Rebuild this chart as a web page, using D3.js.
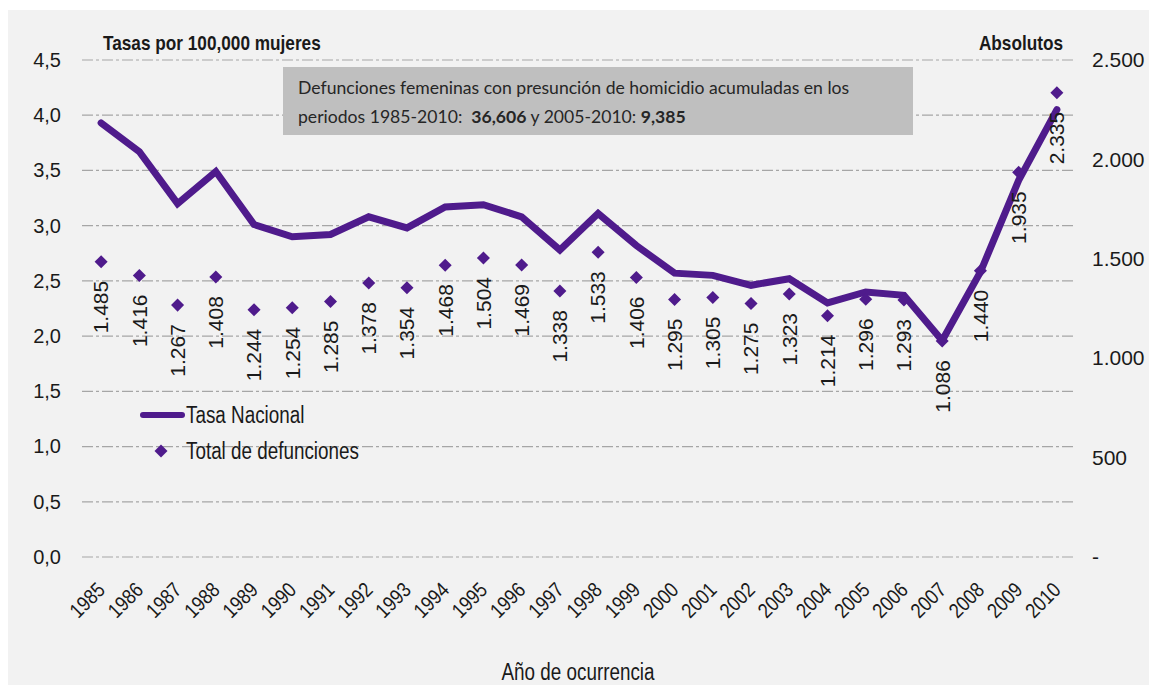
<!DOCTYPE html>
<html>
<head>
<meta charset="utf-8">
<script src="https://cdn.jsdelivr.net/npm/d3@7"></script>
<style>
  body { margin: 0; background: #ffffff; }
</style>
</head>
<body>
<div id="chart"></div>
<script>
const years = ["1985", "1986", "1987", "1988", "1989", "1990", "1991", "1992", "1993",
  "1994", "1995", "1996", "1997", "1998", "1999", "2000", "2001", "2002", "2003",
  "2004", "2005", "2006", "2007", "2008", "2009", "2010"];

// Tasa Nacional (left axis, per 100,000 women)
const tasaNacional = [3.93, 3.67, 3.20, 3.49, 3.01, 2.90, 2.92, 3.08, 2.98, 3.17, 3.19,
  3.08, 2.78, 3.11, 2.82, 2.57, 2.55, 2.46, 2.52, 2.30, 2.40, 2.37, 1.96, 2.58, 3.41, 4.05];

// Total de defunciones (right axis, absolute)
const totalDefunciones = [1485, 1416, 1267, 1408, 1244, 1254, 1285, 1378, 1354, 1468, 1504,
  1469, 1338, 1533, 1406, 1295, 1305, 1275, 1323, 1214, 1296, 1293, 1086, 1440, 1935, 2335];

const leftTicks = [0, 0.5, 1.0, 1.5, 2.0, 2.5, 3.0, 3.5, 4.0, 4.5];
const rightTicks = [0, 500, 1000, 1500, 2000, 2500];

const width = 1149;
const height = 685;
const purple = "#4f1b8c";
const narrow = 0.82; // no Arial Narrow installed, squeeze Liberation Sans instead

const svg = d3.select("#chart")
  .append("svg")
  .attr("width", width)
  .attr("height", height)
  .attr("font-family", "'Liberation Sans', Arial, sans-serif");

// panel background
svg.append("rect")
  .attr("x", 8).attr("y", 10)
  .attr("width", width - 8).attr("height", height - 10)
  .attr("fill", "#f2f2f2");

const x = d3.scaleBand().domain(years).range([82, 1076]);
const cx = (d) => x(d) + x.bandwidth() / 2;
const yL = d3.scaleLinear().domain([0, 4.5]).range([557, 60]);
const yR = d3.scaleLinear().domain([0, 2500]).range([557, 60]);

const esLocale = d3.formatLocale({ decimal: ",", thousands: ".", grouping: [3], currency: ["", ""] });
const fmtInt = esLocale.format(",d");
const fmtDec = esLocale.format(".1f");

// squeezed text helper
const narrowText = (sel, px, py, size, txt) =>
  sel.append("text")
    .attr("transform", `translate(${px},${py}) scale(${narrow},1)`)
    .attr("font-size", size)
    .attr("fill", "#1a1a1a")
    .text(txt);

// gridlines
svg.append("g")
  .selectAll("line")
  .data(leftTicks)
  .enter()
  .append("line")
  .attr("x1", 82).attr("x2", 1076)
  .attr("y1", (d) => yL(d)).attr("y2", (d) => yL(d))
  .attr("stroke", "#a6a6a6")
  .attr("stroke-width", 1.2)
  .attr("stroke-dasharray", "11,3,3,3");

// left axis
const leftAxis = svg.append("g")
  .attr("transform", "translate(82,0)")
  .call(d3.axisLeft(yL).tickValues(leftTicks).tickSize(0).tickPadding(21).tickFormat(fmtDec));
leftAxis.select(".domain").remove();
leftAxis.selectAll("text")
  .attr("font-family", "'Liberation Sans', Arial, sans-serif")
  .attr("font-size", 20)
  .attr("fill", "#1a1a1a");

// right axis
const rightAxis = svg.append("g")
  .attr("transform", "translate(1076,0)")
  .call(d3.axisRight(yR).tickValues(rightTicks).tickSize(0).tickPadding(16)
    .tickFormat((d) => (d === 0 ? "-" : fmtInt(d))));
rightAxis.select(".domain").remove();
rightAxis.selectAll("text")
  .attr("font-family", "'Liberation Sans', Arial, sans-serif")
  .attr("font-size", 21)
  .attr("fill", "#1a1a1a");

// bottom axis
const bottomAxis = svg.append("g")
  .attr("transform", "translate(0,557)")
  .call(d3.axisBottom(x).tickSize(0));
bottomAxis.select(".domain").remove();
bottomAxis.selectAll("text")
  .attr("font-family", "'Liberation Sans', Arial, sans-serif")
  .attr("font-size", 21)
  .attr("fill", "#1a1a1a")
  .attr("text-anchor", "end")
  .attr("x", 0).attr("y", 0)
  .attr("dy", "0.35em")
  .attr("transform", "translate(0,29) rotate(-45) scale(0.85,1)");

// axis titles
narrowText(svg, 103, 50, 21, "Tasas por 100,000 mujeres").attr("font-weight", "bold");
narrowText(svg, 1063, 50, 21, "Absolutos")
  .attr("font-weight", "bold")
  .attr("text-anchor", "end");
narrowText(svg, 578, 680, 23, "Año de ocurrencia").attr("text-anchor", "middle");

// annotation box
svg.append("rect")
  .attr("x", 283).attr("y", 67)
  .attr("width", 630).attr("height", 68)
  .attr("fill", "#bfbfbf");

const note = svg.append("g")
  .attr("font-family", "Lato, 'Open Sans', sans-serif")
  .attr("font-size", 17.6)
  .attr("fill", "#262626");
note.append("text")
  .attr("x", 298).attr("y", 94)
  .text("Defunciones femeninas con presunción de homicidio acumuladas en los");
const line2 = note.append("text").attr("x", 298).attr("y", 123).attr("xml:space", "preserve");
line2.append("tspan").text("periodos 1985-2010:  ");
line2.append("tspan").attr("font-weight", "bold").text("36,606");
line2.append("tspan").text(" y 2005-2010: ");
line2.append("tspan").attr("font-weight", "bold").text("9,385");

// tasa line
const lineGen = d3.line()
  .x((d, i) => cx(years[i]))
  .y((d) => yL(d));

svg.append("path")
  .datum(tasaNacional)
  .attr("d", lineGen)
  .attr("fill", "none")
  .attr("stroke", purple)
  .attr("stroke-width", 7)
  .attr("stroke-linejoin", "miter")
  .attr("stroke-linecap", "round");

// diamonds
const diamond = d3.symbol().type(d3.symbolSquare).size(85);
svg.append("g")
  .selectAll("path")
  .data(totalDefunciones)
  .enter()
  .append("path")
  .attr("d", diamond)
  .attr("fill", purple)
  .attr("transform", (d, i) => `translate(${cx(years[i])},${yR(d)}) rotate(45)`);

// data labels
svg.append("g")
  .selectAll("text")
  .data(totalDefunciones)
  .enter()
  .append("text")
  .attr("font-size", 21)
  .attr("fill", "#1a1a1a")
  .attr("text-anchor", "end")
  .attr("dy", "0.35em")
  .attr("transform", (d, i) => `translate(${cx(years[i])},${yR(d) + 19}) rotate(-90)`)
  .text((d) => fmtInt(d));

// legend
const legend = svg.append("g");
legend.append("line")
  .attr("x1", 143).attr("x2", 182)
  .attr("y1", 415).attr("y2", 415)
  .attr("stroke", purple)
  .attr("stroke-width", 6)
  .attr("stroke-linecap", "round");
narrowText(legend, 186, 423, 23, "Tasa Nacional");
legend.append("path")
  .attr("d", diamond)
  .attr("fill", purple)
  .attr("transform", "translate(161,451) rotate(45)");
narrowText(legend, 186, 459, 23, "Total de defunciones");
</script>
</body>
</html>
